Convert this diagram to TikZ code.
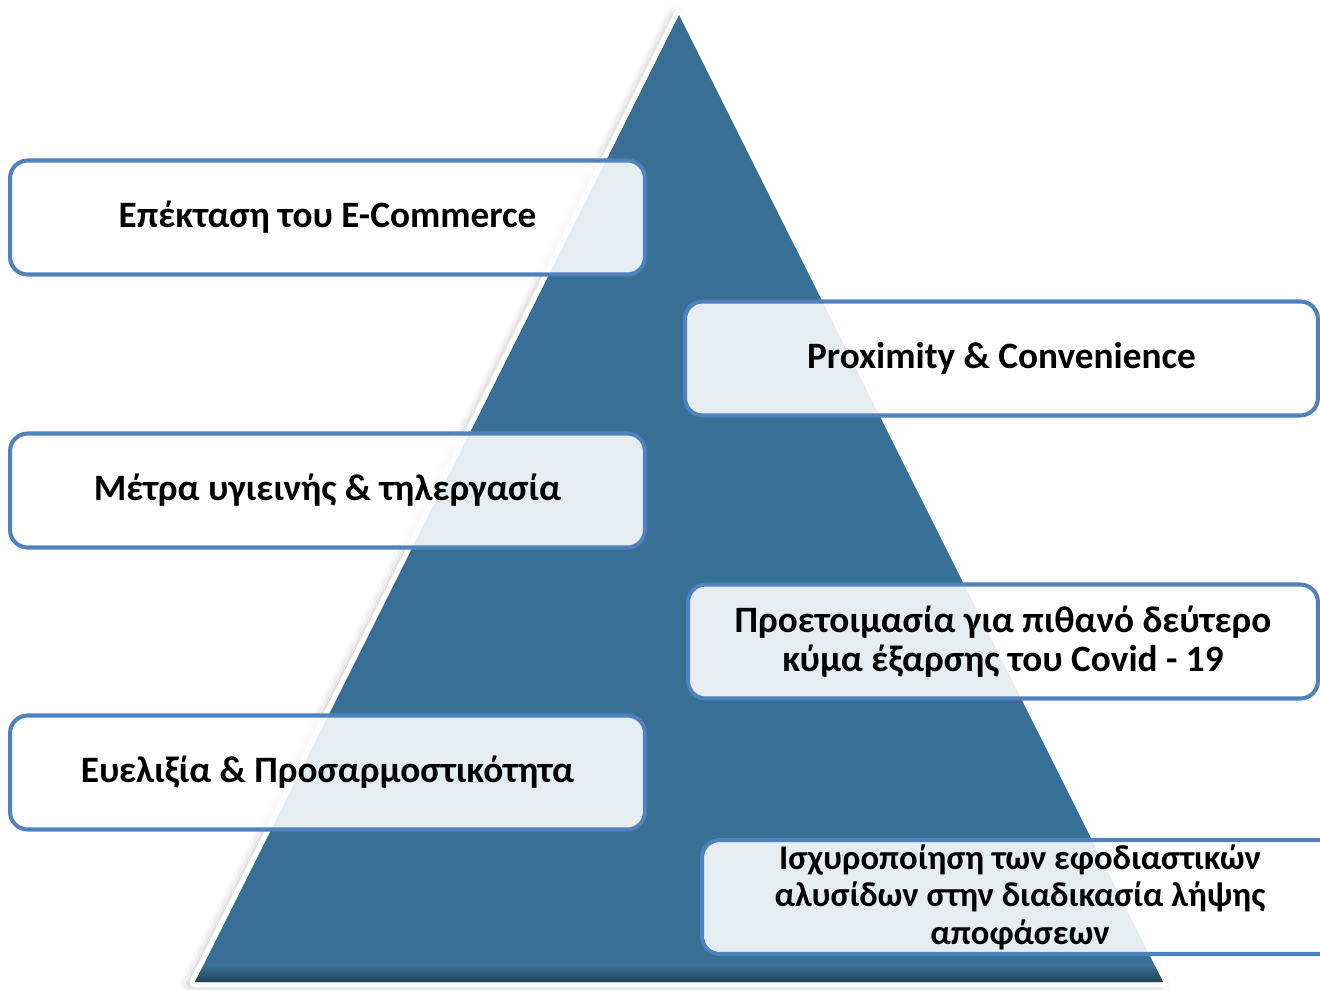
\documentclass[tikz,border=0pt]{standalone}
\usepackage{fontspec}
\setmainfont{Carlito}
\usetikzlibrary{shadows.blur}
\definecolor{pyrblue}{RGB}{56,111,148}
\definecolor{boxline}{RGB}{79,129,189}

\begin{document}
\begin{tikzpicture}[x=0.02cm,y=-0.02cm]
    \tikzstyle{block} = [draw=boxline,line width=2.3pt,rounded corners=0.35cm,fill=white,fill opacity=0.88,text opacity=1,
      font=\fontsize{21.2}{22.5}\selectfont\bfseries,align=center,inner sep=0pt,minimum height=2.28cm]
    \useasboundingbox (0,0) rectangle (1320,990);
    \clip (0,0) rectangle (1320,990);
    % pyramid
    \coordinate (top) at (679,15);
    \coordinate (bl) at (195,982);
    \coordinate (br) at (1163,982);
    \draw [white,line width=6pt,line join=round,
      blur shadow={shadow xshift=-2.5pt,shadow yshift=-1pt,shadow opacity=35,shadow blur radius=6pt}]
      (top) -- (br) -- (bl) -- cycle;
    \fill [pyrblue] (top) -- (br) -- (bl) -- cycle;
    \begin{scope}
      \clip (top) -- (br) -- (bl) -- cycle;
      \shade [top color=pyrblue,bottom color=pyrblue!55!black] (150,966) rectangle (1200,983);
    \end{scope}

    % left column
    \node [block,minimum width=12.7cm] (ecom) at (327.5,217.5) {Επέκταση του E-Commerce};
    \node [block,minimum width=12.7cm] (metra) at (327.5,490.5) {Μέτρα υγιεινής \& τηλεργασία};
    \node [block,minimum width=12.7cm] (evel) at (327.5,772.5) {Ευελιξία \& Προσαρμοστικότητα};
    % right column
    \node [block,minimum width=12.66cm] (prox) at (1001.5,358.5) {Proximity \& Convenience};
    \node [block,minimum width=12.6cm] (covid) at (1003,641.5) {Προετοιμασία για πιθανό δεύτερο\\κύμα έξαρσης του Covid - 19};
    \node [block,minimum width=12.72cm,font=\fontsize{19.7}{21.3}\selectfont\bfseries] (efod) at (1020,897)
      {Ισχυροποίηση των εφοδιαστικών\\αλυσίδων στην διαδικασία λήψης\\αποφάσεων};
\end{tikzpicture}
\end{document}
